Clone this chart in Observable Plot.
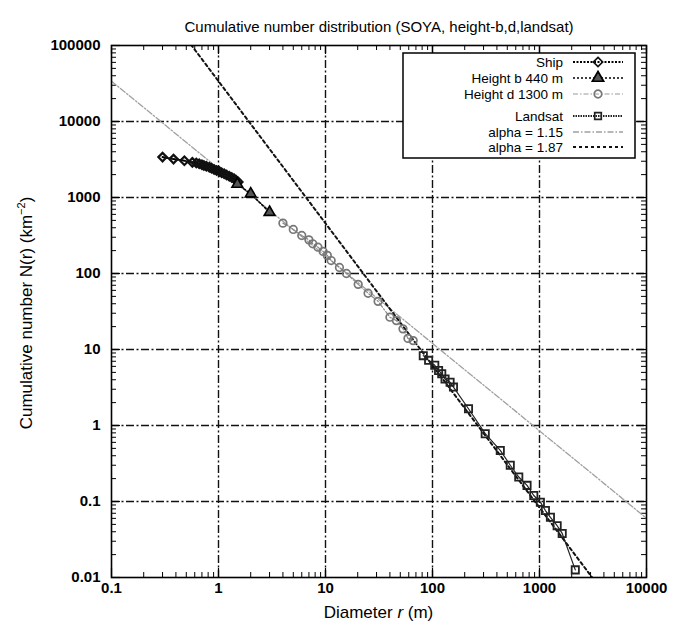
<!DOCTYPE html>
<html>
<head>
<meta charset="utf-8">
<script src="https://cdn.jsdelivr.net/npm/d3@7"></script>
<script src="https://cdn.jsdelivr.net/npm/@observablehq/plot@0.6"></script>
<style>
  html, body { margin: 0; padding: 0; background: #fff; }
  #chart { width: 684px; height: 628px; }
</style>
</head>
<body>
<div id="chart"></div>
<script>
// ---- data ----
const shipR = [0.30, 0.38, 0.48, 0.57, 0.62, 0.66, 0.70, 0.73, 0.77, 0.82, 0.86, 0.91, 0.96, 1.02, 1.07, 1.13, 1.19, 1.26, 1.33, 1.40, 1.46, 1.53];
const shipN = [3400, 3200, 3050, 2900, 2850, 2780, 2700, 2640, 2570, 2500, 2420, 2330, 2270, 2200, 2120, 2050, 1980, 1900, 1830, 1760, 1690, 1600];

const heightbR = [1.5, 2.0, 3.0];
const heightbN = [1500, 1120, 640];

const heightdR = [4.0, 5.0, 6.0, 7.0, 7.6, 8.5, 9.5, 10.4, 11.3, 13.5, 15.7, 20.2, 25, 31, 40, 46, 53, 59, 66];
const heightdN = [460, 380, 316, 277, 246, 222, 195, 173, 148, 120, 100, 72, 55, 43, 26.6, 24, 18.7, 14, 13.1];

const landsatR = [82, 92, 105, 114, 122, 131, 146, 157, 217, 311, 430, 533, 640, 765, 884, 1019, 1136, 1265, 1462, 1630, 2160];
const landsatN = [8.3, 7.2, 6.2, 5.3, 4.8, 4.1, 3.7, 3.2, 1.66, 0.78, 0.47, 0.30, 0.21, 0.163, 0.12, 0.098, 0.076, 0.062, 0.048, 0.038, 0.0126];

const fitAlpha = [1.15, 1.87];
const fitCoef = [2400, 33900];   // N = coef * r^-alpha

const xTickVals = [0.1, 1, 10, 100, 1000, 10000];
const xTickLabels = ["0.1", "1", "10", "100", "1000", "10000"];
const yTickVals = [0.01, 0.1, 1, 10, 100, 1000, 10000, 100000];
const yTickLabels = ["0.01", "0.1", "1", "10", "100", "1000", "10000", "100000"];

const titleText = "Cumulative number distribution (SOYA, height-b,d,landsat)";
const legendLabels = ["Ship", "Height b 440 m", "Height d 1300 m", "Landsat", "alpha = 1.15", "alpha = 1.87"];

// ---- build tables ----
const zip = (R, N) => R.map((r, i) => ({r, n: N[i]}));
const ship = zip(shipR, shipN);
const heightb = zip(heightbR, heightbN);
const heightd = zip(heightdR, heightdN);
const landsat = zip(landsatR, landsatN);
const xDomain = [0.1, 10000];
const fits = fitAlpha.flatMap((a, k) => xDomain.map(r => ({k, r, n: fitCoef[k] * Math.pow(r, -a)})));

const minorOf = (vals) => vals.slice(0, -1).flatMap(d => [2,3,4,5,6,7,8,9].map(m => d * m));
const xMinor = minorOf(xTickVals);
const yMinor = minorOf(yTickVals);

const W = 684, H = 628, mL = 111, mR = 38, mT = 45, mB = 51;
const fw = W - mL - mR, fh = H - mT - mB;
const font = "'Liberation Sans', Arial, Helvetica, sans-serif";
const gridStyle = {stroke: "#111", strokeWidth: 1.4, strokeDasharray: "8,2.5,2,2.5"};

const plot = Plot.plot({
  width: W, height: H,
  marginLeft: mL, marginRight: mR, marginTop: mT, marginBottom: mB,
  style: {fontFamily: font, background: "#fff", color: "#000"},
  x: {type: "log", domain: xDomain, axis: null},
  y: {type: "log", domain: [0.01, 100000], axis: null},
  marks: [
    Plot.ruleX(xTickVals.slice(1, -1), gridStyle),
    Plot.ruleY(yTickVals.slice(1, -1), gridStyle),
    // minor ticks, inward on all sides
    Plot.tickX(xMinor, {x: d => d, insetTop: fh - 5, stroke: "#000", strokeWidth: 1}),
    Plot.tickX(xMinor, {x: d => d, insetBottom: fh - 5, stroke: "#000", strokeWidth: 1}),
    Plot.tickY(yMinor, {y: d => d, insetRight: fw - 5, stroke: "#000", strokeWidth: 1}),
    Plot.tickY(yMinor, {y: d => d, insetLeft: fw - 5, stroke: "#000", strokeWidth: 1}),
    // major ticks
    Plot.tickX(xTickVals, {x: d => d, insetTop: fh - 9, stroke: "#000", strokeWidth: 1.2}),
    Plot.tickX(xTickVals, {x: d => d, insetBottom: fh - 9, stroke: "#000", strokeWidth: 1.2}),
    Plot.tickY(yTickVals, {y: d => d, insetRight: fw - 9, stroke: "#000", strokeWidth: 1.2}),
    Plot.tickY(yTickVals, {y: d => d, insetLeft: fw - 9, stroke: "#000", strokeWidth: 1.2}),
    // fit lines
    Plot.line(fits.filter(d => d.k === 0), {x: "r", y: "n", clip: true, stroke: "#a0a0a0", strokeWidth: 1.3, strokeDasharray: "6,2,1.5,2"}),
    Plot.line(fits.filter(d => d.k === 1), {x: "r", y: "n", clip: true, stroke: "#111", strokeWidth: 2, strokeDasharray: "3,3"}),
    // data series
    Plot.line(heightd, {x: "r", y: "n", stroke: "#888", strokeWidth: 1.2, strokeDasharray: "5,2,1.5,2"}),
    Plot.dot(heightd, {x: "r", y: "n", symbol: "circle", r: 3.8, stroke: "#777", strokeWidth: 1.7, fill: "none"}),
    Plot.line(landsat, {x: "r", y: "n", stroke: "#222", strokeWidth: 1.2}),
    Plot.dot(landsat, {x: "r", y: "n", symbol: "square2", r: 4.6, stroke: "#222", strokeWidth: 1.8, fill: "none"}),
    Plot.line(ship, {x: "r", y: "n", stroke: "#000", strokeWidth: 2, strokeDasharray: "2,1.5"}),
    Plot.dot(ship, {x: "r", y: "n", symbol: "diamond2", r: 3.8, stroke: "#111", strokeWidth: 2.2, fill: "none"}),
    Plot.line(heightb, {x: "r", y: "n", stroke: "#000", strokeWidth: 1.6, strokeDasharray: "2,2"}),
    Plot.dot(heightb, {x: "r", y: "n", symbol: "triangle", r: 4, fill: "#555", stroke: "#000", strokeWidth: 1.6}),
    Plot.frame({stroke: "#000", strokeWidth: 1.6}),
    // tick labels
    Plot.text(xTickVals, {x: d => d, text: (d, i) => xTickLabels[i], frameAnchor: "bottom", dy: 15, fontSize: 15, fontWeight: "bold", letterSpacing: "-0.5px"}),
    Plot.text(yTickVals, {y: d => d, text: (d, i) => yTickLabels[i], frameAnchor: "left", dx: -11, textAnchor: "end", fontSize: 15, fontWeight: "bold", letterSpacing: "-0.5px"}),
    Plot.text([titleText], {text: d => d, frameAnchor: "top", dy: -24, fontSize: 15})
  ]
});
document.getElementById("chart").appendChild(plot);

// ---- axis titles and legend ----
const svg = d3.select(plot);
const cx = mL + fw / 2;
const xt = svg.append("text").attr("x", cx).attr("y", H - 10).attr("text-anchor", "middle")
  .attr("font-size", 17).attr("font-family", font);
xt.append("tspan").text("Diameter ");
xt.append("tspan").attr("font-style", "italic").text("r");
xt.append("tspan").text(" (m)");

const yt = svg.append("text").attr("transform", `translate(32,${mT + fh / 2 + 2}) rotate(-90)`)
  .attr("text-anchor", "middle").attr("font-size", 17).attr("font-family", font);
yt.append("tspan").text("Cumulative number N(r) (km");
yt.append("tspan").attr("font-size", 11).attr("dy", -7).text("−2");
yt.append("tspan").attr("dy", 7).text(")");

const lg = svg.append("g");
const bx = mL + fw - 243, by = mT + 8, bw = 232, bh = 105;
lg.append("rect").attr("x", bx).attr("y", by).attr("width", bw).attr("height", bh)
  .attr("fill", "#fff").attr("stroke", "#000").attr("stroke-width", 1.5);
const rowY = [9, 25, 41, 63, 79, 94];
const sx1 = bx + 170, sx2 = bx + 220, smid = (sx1 + sx2) / 2;
const styles = [
  {stroke: "#000", w: 2, dash: "2,1.5", sym: "diamond2", fill: "none", mstroke: "#111"},
  {stroke: "#000", w: 1.6, dash: "2,2", sym: "triangle", fill: "#555", mstroke: "#000"},
  {stroke: "#999", w: 1.2, dash: "5,2,1.5,2", sym: "circle", fill: "none", mstroke: "#777"},
  {stroke: "#222", w: 1.8, dash: "1.5,1", sym: "square2", fill: "none", mstroke: "#222"},
  {stroke: "#a0a0a0", w: 1.3, dash: "6,2,1.5,2", sym: null},
  {stroke: "#111", w: 2, dash: "3,3", sym: null}
];
const symMap = {diamond2: d3.symbolDiamond2, triangle: d3.symbolTriangle, circle: d3.symbolCircle, square2: d3.symbolSquare2};
legendLabels.forEach((lab, i) => {
  const y = by + rowY[i];
  lg.append("text").attr("x", bx + 160).attr("y", y).attr("dy", "0.35em").attr("text-anchor", "end")
    .attr("font-size", 13.5).attr("font-family", font).text(lab);
  const s = styles[i];
  lg.append("line").attr("x1", sx1).attr("x2", sx2).attr("y1", y).attr("y2", y)
    .attr("stroke", s.stroke).attr("stroke-width", s.w).attr("stroke-dasharray", s.dash);
  if (s.sym) {
    lg.append("path").attr("transform", `translate(${smid},${y})`)
      .attr("d", d3.symbol(symMap[s.sym], s.sym === "circle" ? 45 : 55)())
      .attr("fill", s.fill).attr("stroke", s.mstroke).attr("stroke-width", 1.7);
  }
});
</script>
</body>
</html>
